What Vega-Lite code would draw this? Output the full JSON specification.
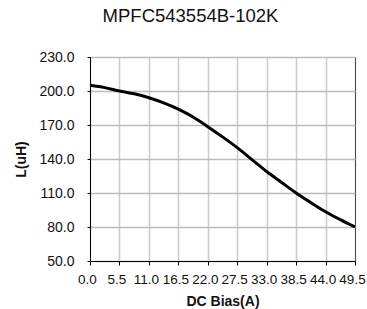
{
  "$schema": "https://vega.github.io/schema/vega-lite/v6.json",
  "width": 265,
  "height": 204,
  "autosize": {"type": "none"},
  "padding": {"left": 90, "top": 57, "right": 12, "bottom": 48},
  "background": "white",
  "title": {
    "text": "MPFC543554B-102K",
    "font": "Liberation Sans",
    "fontSize": 18.5,
    "fontWeight": "normal",
    "color": "#111",
    "anchor": "middle",
    "dx": -32,
    "offset": 25
  },
  "data": {
    "values": [
      {"x": 0, "L": 205},
      {"x": 2.75, "L": 203},
      {"x": 5.5, "L": 200},
      {"x": 8.25, "L": 197.5},
      {"x": 11, "L": 194},
      {"x": 13.75, "L": 189.5},
      {"x": 16.5, "L": 184},
      {"x": 19.25, "L": 177},
      {"x": 22, "L": 168.5},
      {"x": 24.75, "L": 159.5},
      {"x": 27.5, "L": 150},
      {"x": 30.25, "L": 139.5},
      {"x": 33, "L": 129},
      {"x": 35.75, "L": 119.5},
      {"x": 38.5, "L": 110},
      {"x": 41.25, "L": 101.5},
      {"x": 44, "L": 93.5},
      {"x": 46.75, "L": 86.5},
      {"x": 49.5, "L": 80}
    ]
  },
  "mark": {"type": "line", "color": "black", "strokeWidth": 3, "interpolate": "monotone", "clip": true},
  "encoding": {
    "x": {
      "field": "x",
      "type": "quantitative",
      "scale": {"domain": [0, 49.5], "nice": false, "zero": false},
      "axis": {
        "title": "DC Bias(A)",
        "values": [0, 5.5, 11, 16.5, 22, 27.5, 33, 38.5, 44, 49.5],
        "format": ".1f",
        "labelOverlap": false,
        "labelFlush": false,
        "labelFontSize": 13.5,
        "labelOffset": -3,
        "tickSize": 4,
        "labelPadding": 7,
        "titlePadding": 9,
        "gridDash": [1, 1],
        "gridColor": "#999",
        "gridWidth": 1.5
      }
    },
    "y": {
      "field": "L",
      "type": "quantitative",
      "scale": {"domain": [50, 230], "nice": false, "zero": false},
      "axis": {
        "title": "L(uH)",
        "values": [50, 80, 110, 140, 170, 200, 230],
        "format": ".1f",
        "tickSize": 3,
        "labelPadding": 13,
        "titlePadding": 10,
        "gridColor": "#bbb",
        "gridWidth": 1.5
      }
    }
  },
  "config": {
    "view": {"stroke": "black", "strokeWidth": 1},
    "axis": {
      "domainColor": "black",
      "tickColor": "black",
      "labelFont": "Liberation Sans",
      "labelFontSize": 14,
      "labelColor": "#111",
      "titleFont": "Liberation Sans",
      "titleFontSize": 14,
      "titleFontWeight": "bold",
      "titleColor": "#111",
      "grid": true
    }
  }
}
